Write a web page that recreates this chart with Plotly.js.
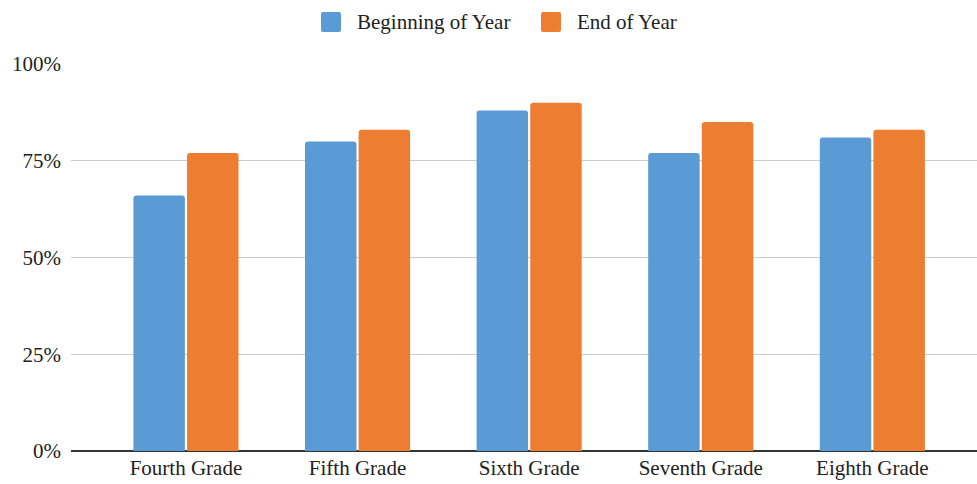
<!DOCTYPE html>
<html><head><meta charset="utf-8">
<script src="https://cdn.plot.ly/plotly-3.0.1.min.js"></script>
<style>html,body{margin:0;padding:0;background:#fff}#chart{width:977px;height:484px}</style>
</head><body><div id="chart"></div>
<script>
const categories = ["Fourth Grade","Fifth Grade","Sixth Grade","Seventh Grade","Eighth Grade"];
const beginningOfYear = [66, 80, 88, 77, 81];
const endOfYear = [77, 83, 90, 85, 83];
const seriesNames = ["Beginning of Year", "End of Year"];
const seriesColors = ["#5B9BD5", "#ED7D31"];
const yTicks = [0, 25, 50, 75, 100];
const yTickLabels = ["0%","25%","50%","75%","100%"];

const FONT = "Liberation Serif, Times New Roman, serif";
const W = 977, H = 484, ML = 71, MR = 0, MT = 64, MB = 33;
const PW = W - ML - MR, PH = H - MT - MB;
const px2x = p => (p - ML) / PW;
const px2y = p => (H - MB - p) / PH;

const traces = [
  {type:"bar", name:seriesNames[0], x:categories, y:beginningOfYear, marker:{color:seriesColors[0], cornerradius:3}, showlegend:false},
  {type:"bar", name:seriesNames[1], x:categories, y:endOfYear, marker:{color:seriesColors[1], cornerradius:3}, showlegend:false}
];

// custom legend (larger swatches like the reference)
const legendSwatchLeft = [321, 541];
const shapes = [], annotations = [];
function roundedRect(x0, y0, x1, y1, r) {
  // in pixel units converted to paper
  return `M${px2x(x0+r)},${px2y(y0)} L${px2x(x1-r)},${px2y(y0)} Q${px2x(x1)},${px2y(y0)} ${px2x(x1)},${px2y(y0+r)} L${px2x(x1)},${px2y(y1-r)} Q${px2x(x1)},${px2y(y1)} ${px2x(x1-r)},${px2y(y1)} L${px2x(x0+r)},${px2y(y1)} Q${px2x(x0)},${px2y(y1)} ${px2x(x0)},${px2y(y1-r)} L${px2x(x0)},${px2y(y0+r)} Q${px2x(x0)},${px2y(y0)} ${px2x(x0+r)},${px2y(y0)} Z`;
}
seriesNames.forEach((n, i) => {
  const x0 = legendSwatchLeft[i];
  shapes.push({type:"path", xref:"paper", yref:"paper", path:roundedRect(x0, 12, x0+20, 32, 2), fillcolor:seriesColors[i], line:{width:0}});
  annotations.push({xref:"paper", yref:"paper", x:px2x(x0+34), y:px2y(22), xanchor:"left", yanchor:"middle", text:n, showarrow:false, font:{family:FONT, size:21, color:"#222"}});
});

const layout = {
  width:W, height:H,
  margin:{l:ML, r:MR, t:MT, b:MB},
  paper_bgcolor:"#fff", plot_bgcolor:"#fff",
  font:{family:FONT, size:21, color:"#222"},
  barmode:"group", bargap:0.375, bargroupgap:0.04,
  showlegend:false,
  shapes:shapes, annotations:annotations,
  xaxis:{type:"category", range:[-0.67, 4.61], showgrid:false, zeroline:false, showline:false, ticks:"", ticklabelstandoff:2, tickfont:{family:FONT, size:21, color:"#222"}},
  yaxis:{range:[0,100], tickvals:yTicks, ticktext:yTickLabels, showgrid:true, gridcolor:"#cccccc", gridwidth:1, zeroline:true, zerolinecolor:"#333", zerolinewidth:1.5, ticks:"", ticklabelstandoff:9, tickfont:{family:FONT, size:21, color:"#222"}}
};
Plotly.newPlot("chart", traces, layout, {displayModeBar:false, staticPlot:true});
</script></body></html>
